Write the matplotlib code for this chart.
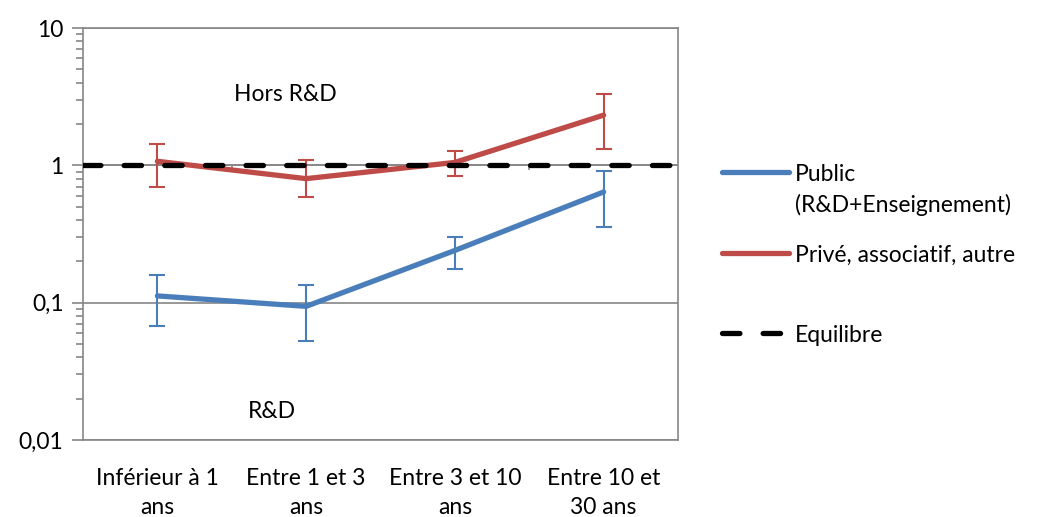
import matplotlib.pyplot as plt
from matplotlib.lines import Line2D
from matplotlib.ticker import LogLocator, FixedLocator, NullFormatter

plt.rcParams['font.family'] = ['Lato', 'DejaVu Sans']

# Données
categories = ["Inférieur à 1\nans", "Entre 1 et 3\nans", "Entre 3 et 10\nans", "Entre 10 et\n30 ans"]
public = [0.112, 0.094, 0.24, 0.64]
public_bas = [0.068, 0.053, 0.176, 0.355]
public_haut = [0.158, 0.134, 0.300, 0.91]
prive = [1.07, 0.80, 1.05, 2.32]
prive_bas = [0.69, 0.59, 0.83, 1.31]
prive_haut = [1.42, 1.10, 1.27, 3.28]
equilibre = 1

bleu = '#4A7EBB'
rouge = '#BE4B48'
gris = '#868686'
taille = 16.5

fig = plt.figure(figsize=(10.37, 5.17), dpi=100)
W, H = 1037, 517
ax = fig.add_axes([83 / W, 77 / H, 595 / W, 412 / H])

x = list(range(len(categories)))

def barres(valeurs, bas, haut):
    return [[v - b for v, b in zip(valeurs, bas)], [h - v for v, h in zip(valeurs, haut)]]

ax.axhline(equilibre, color=gris, lw=1.2, zorder=1)
ax.vlines([0.5, 1.5, 2.5], 0.93, equilibre, color=gris, lw=1.2, zorder=1)

ax.errorbar(x, public, yerr=barres(public, public_bas, public_haut), fmt='none',
            ecolor=bleu, elinewidth=1.5, capsize=6, capthick=1.5, zorder=3)
ax.errorbar(x, prive, yerr=barres(prive, prive_bas, prive_haut), fmt='none',
            ecolor=rouge, elinewidth=1.5, capsize=6, capthick=1.5, zorder=3)
ax.plot(x, public, color=bleu, lw=3.8, solid_capstyle='round', solid_joinstyle='round', zorder=4)
ax.plot(x, prive, color=rouge, lw=3.8, solid_capstyle='round', solid_joinstyle='round', zorder=4)
ax.axhline(equilibre, color='black', lw=3.8, dashes=(3.3, 4.4), dash_capstyle='round', zorder=5)

ax.set_yscale('log')
ax.set_ylim(0.01, 10)
ax.set_xlim(-0.5, len(categories) - 0.5)
ax.yaxis.set_major_locator(FixedLocator([0.01, 0.1, 1, 10]))
ax.yaxis.set_minor_locator(LogLocator(base=10, subs=range(2, 10)))
ax.yaxis.set_minor_formatter(NullFormatter())
ax.set_yticklabels(['0,01', '0,1', '1', '10'])
ax.yaxis.grid(True, which='major', color=gris, lw=1.2)
ax.set_axisbelow(True)
ax.tick_params(axis='y', which='major', length=8, width=1.2, color=gris, labelsize=taille, pad=6)
ax.tick_params(axis='y', which='minor', length=5, width=1.2, color=gris)

ax.set_xticks(x)
ax.set_xticklabels(categories, fontsize=taille, linespacing=1.5)
ax.tick_params(axis='x', length=0, pad=20)

for s in ax.spines.values():
    s.set_color(gris)
    s.set_linewidth(1.2)

ax.text(0.86, 3.3, "Hors R&D", fontsize=taille, ha='center', va='center')
ax.text(0.77, 0.016, "R&D", fontsize=taille, ha='center', va='center')

# Légende dessinée à la main (poignée alignée sur la première ligne)
entrees = [
    (bleu, None, "Public\n(R&D+Enseignement)", 172),
    (rouge, None, "Privé, associatif, autre", 253),
    ('black', (3.3, 4.4), "Equilibre", 333),
]
for couleur, tirets, texte, yp in entrees:
    ligne = Line2D([722 / W, 789 / W], [1 - yp / H] * 2, transform=fig.transFigure,
                   color=couleur, lw=3.8, solid_capstyle='round', dash_capstyle='round')
    if tirets:
        ligne.set_dashes(tirets)
    fig.add_artist(ligne)
    fig.text(795 / W, 1 - (yp - 8) / H, texte, fontsize=taille, ha='left', va='top',
             linespacing=1.5)

fig.savefig('out.png', dpi=100)
